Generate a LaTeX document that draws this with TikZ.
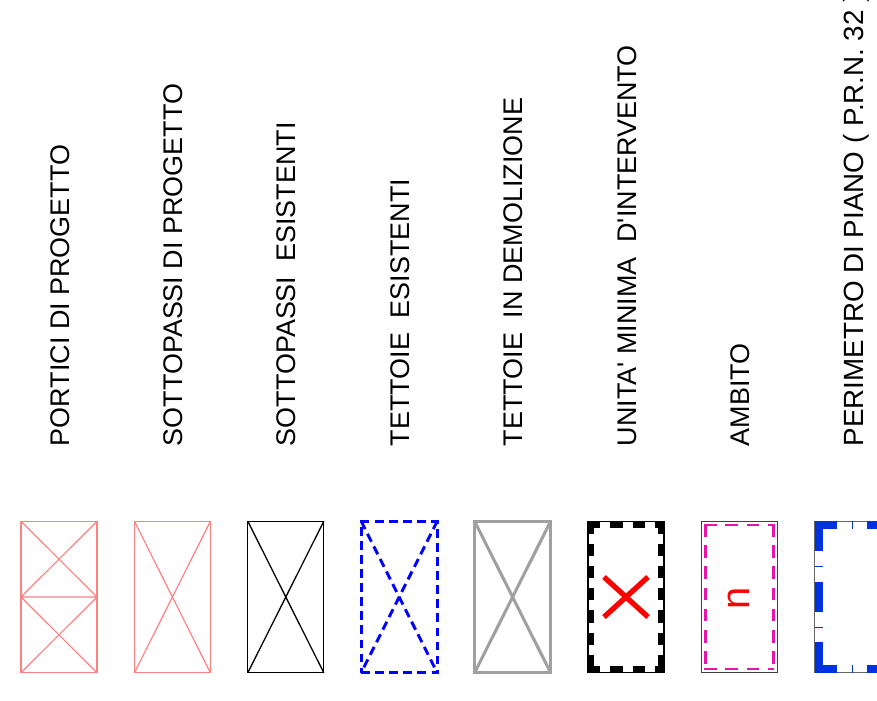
\documentclass[tikz,border=0pt]{standalone}
\usepackage{fontspec}
\setmainfont{Liberation Sans}
\usetikzlibrary{calc}

\definecolor{portico}{RGB}{255,128,128}
\definecolor{tettoia}{RGB}{0,0,255}
\definecolor{demol}{RGB}{160,160,160}
\definecolor{ambito}{RGB}{230,20,170}
\definecolor{prn}{RGB}{0,51,221}

\begin{document}
\begin{tikzpicture}[
  x=0.03cm, y=-0.03cm,
  lbl/.style={
    rotate=90,
    anchor=base west,
    inner sep=0pt,
    font=\fontsize{23}{27}\selectfont,
  },
  sym/.style={
    draw,
    rectangle,
    minimum width=2.28cm,
    minimum height=4.545cm,
    inner sep=0pt,
    outer sep=0pt,
  },
  pink/.style={draw=portico, line width=1pt},
  nero/.style={draw=black, line width=1.1pt},
  tratt/.style={draw=tettoia, line width=2.5pt, dash pattern=on 7.5pt off 4.5pt},
  grigio/.style={draw=demol, line width=2.6pt},
  umibord/.style={draw=black, line width=5.1pt, dash pattern=on 10.5pt off 8.5pt},
  ambbord/.style={draw=ambito, line width=2pt, dash pattern=on 11pt off 7pt},
  prnoriz/.style={draw=prn, line width=6.8pt,
    dash pattern=on 18.7pt off 12.75pt on 0.6pt off 12.75pt on 25.5pt off 12.75pt},
  prnvert/.style={draw=prn, line width=6.8pt,
    dash pattern=on 25.5pt off 12.75pt on 0.6pt off 12.75pt},
]
  \useasboundingbox (0,0) rectangle (877,700);
  \clip (0,0) rectangle (877,700);

  % labels, rotated, one column per symbol
  \foreach \i/\txt in {1/PORTICI DI PROGETTO,
                       2/SOTTOPASSI DI PROGETTO,
                       3/SOTTOPASSI\ \ ESISTENTI,
                       4/TETTOIE\ \ ESISTENTI,
                       5/TETTOIE\ \ IN DEMOLIZIONE,
                       6/UNITA\textquotesingle{} MINIMA\ \ D\textquotesingle{}INTERVENTO,
                       7/AMBITO} {
    \node[lbl] (l\i) at ({69+113.4*(\i-1)}, 446.5) {\txt};
  }
  \node[lbl, font=\fontsize{23.7}{28}\selectfont] (l8) at (863, 446.5)
    {PERIMETRO DI PIANO ( P.R.N. 32 )};

  % symbols
  \node[sym, pink] (s1) at (59, 597) {};
  \draw[pink] (s1.west) -- (s1.east)
    (s1.north west) -- (s1.east) (s1.north east) -- (s1.west)
    (s1.west) -- (s1.south east) (s1.east) -- (s1.south west);

  \node[sym, pink] (s2) at (172.4, 597) {};
  \draw[pink] (s2.north west) -- (s2.south east) (s2.north east) -- (s2.south west);

  \node[sym, nero] (s3) at (285.8, 597) {};
  \draw[nero] (s3.north west) -- (s3.south east) (s3.north east) -- (s3.south west);

  \node[sym, tratt] (s4) at (399.2, 597) {};
  \draw[tratt] (s4.north west) -- (s4.south east) (s4.north east) -- (s4.south west);

  \node[sym, grigio] (s5) at (512.6, 597) {};
  \draw[grigio] (s5.north west) -- (s5.south east) (s5.north east) -- (s5.south west);

  % unita' minima: frame, thick dashed border, red cross
  \node[sym, draw=black, line width=0.9pt] (s6) at (626, 597) {};
  \foreach \a/\b/\dx/\dy in {north west/north east/0/3.5, south west/south east/0/-3.5,
                             north west/south west/3.5/0, north east/south east/-3.5/0}
    \draw[umibord] ($(s6.\a)+(\dx,\dy)$) -- ($(s6.\b)+(\dx,\dy)$);
  \draw[red, line width=4.5pt] ($(s6)+(-22,-20)$) -- ($(s6)+(22,20)$)
    ($(s6)+(22,-20)$) -- ($(s6)+(-22,20)$);

  % ambito
  \node[sym, draw=black!75, line width=1pt] (s7) at (739.4, 597) {};
  \foreach \a/\b/\sx/\sy/\ex/\ey in {north west/north east/3/4/-3/4,
                                     south west/south east/3/-4/-3/-4,
                                     north west/south west/4/3/4/-3,
                                     north east/south east/-4/3/-4/-3}
    \draw[ambbord] ($(s7.\a)+(\sx,\sy)$) -- ($(s7.\b)+(\ex,\ey)$);
  \node[rotate=90, red, inner sep=0pt, font=\fontsize{34}{40}\selectfont] (n7) at (738.5, 598) {n};

  % perimetro di piano
  \node[sym, draw=black!60, line width=0.9pt] (s8) at (852.8, 597) {};
  \draw[prnoriz] ($(s8.north west)+(0,4)$) -- ($(s8.north east)+(0,4)$);
  \draw[prnoriz] ($(s8.south west)+(0,-4)$) -- ($(s8.south east)+(0,-4)$);
  \draw[prnvert] ($(s8.north west)+(4,0)$) -- ($(s8.south west)+(4,0)$);
  \draw[prnvert] ($(s8.north east)+(-4,0)$) -- ($(s8.south east)+(-4,0)$);
\end{tikzpicture}
\end{document}
